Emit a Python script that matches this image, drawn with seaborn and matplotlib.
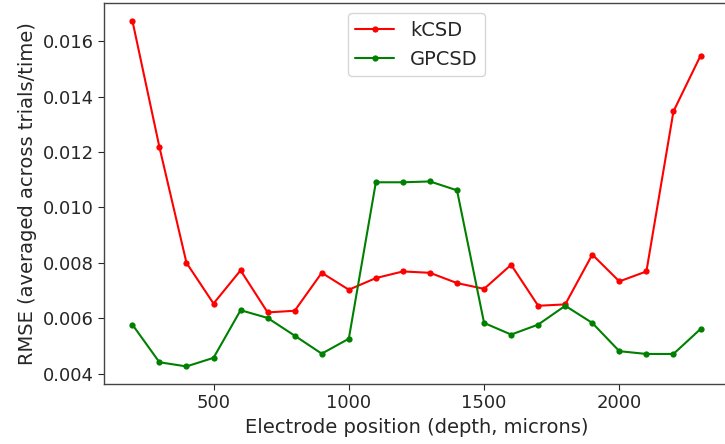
import numpy as np
import pandas as pd
import matplotlib
matplotlib.use("Agg")
import matplotlib.pyplot as plt
import seaborn as sns

positions = [200, 300, 400, 500, 600, 700, 800, 900, 1000, 1100, 1200,
             1300, 1400, 1500, 1600, 1700, 1800, 1900, 2000, 2100, 2200, 2300]
kcsd = [0.01675, 0.01218, 0.00800, 0.00653, 0.00773, 0.00621, 0.00627, 0.00764,
        0.00703, 0.00745, 0.00769, 0.00764, 0.00727, 0.00706, 0.00793, 0.00645,
        0.00650, 0.00830, 0.00733, 0.00769, 0.01347, 0.01548]
gpcsd = [0.00577, 0.00441, 0.00426, 0.00457, 0.00629, 0.00601, 0.00537, 0.00472,
         0.00526, 0.01091, 0.01091, 0.01094, 0.01062, 0.00583, 0.00541, 0.00577,
         0.00645, 0.00583, 0.00481, 0.00471, 0.00471, 0.00561]
series_names = ["kCSD", "GPCSD"]
colors = {"kCSD": "red", "GPCSD": "green"}

df = pd.concat([
    pd.DataFrame({"pos": positions, "rmse": kcsd, "method": "kCSD"}),
    pd.DataFrame({"pos": positions, "rmse": gpcsd, "method": "GPCSD"}),
])

sns.set_style("white")
plt.rcParams["font.family"] = ["DejaVu Sans"]
text_color = "#262626"

fig = plt.figure(figsize=(7.25, 4.44), dpi=100)
ax = fig.add_axes([0.1434, 0.1358, 0.862, 0.8568])
sns.lineplot(data=df, x="pos", y="rmse", hue="method", hue_order=series_names,
             palette=colors, marker="o", markersize=4.5, markeredgewidth=0,
             linewidth=1.5, ax=ax)

ax.set_xticks([500, 1000, 1500, 2000])
ax.set_yticks([0.004, 0.006, 0.008, 0.010, 0.012, 0.014, 0.016])
ax.tick_params(axis="both", labelsize=13, colors=text_color, length=4,
               left=True, bottom=True)
for lab in ax.get_xticklabels() + ax.get_yticklabels():
    lab.set_color(text_color)
ax.set_xlabel("Electrode position (depth, microns)", fontsize=14, color=text_color)
ax.set_ylabel("RMSE (averaged across trials/time)", fontsize=14, color=text_color)
for s in ax.spines.values():
    s.set_color("#444444")
    s.set_linewidth(1.0)

leg = ax.legend(loc="upper center", fontsize=14, frameon=True)
leg.get_frame().set_edgecolor("#cccccc")
for t in leg.get_texts():
    t.set_color(text_color)

fig.savefig("out.png", dpi=100)
